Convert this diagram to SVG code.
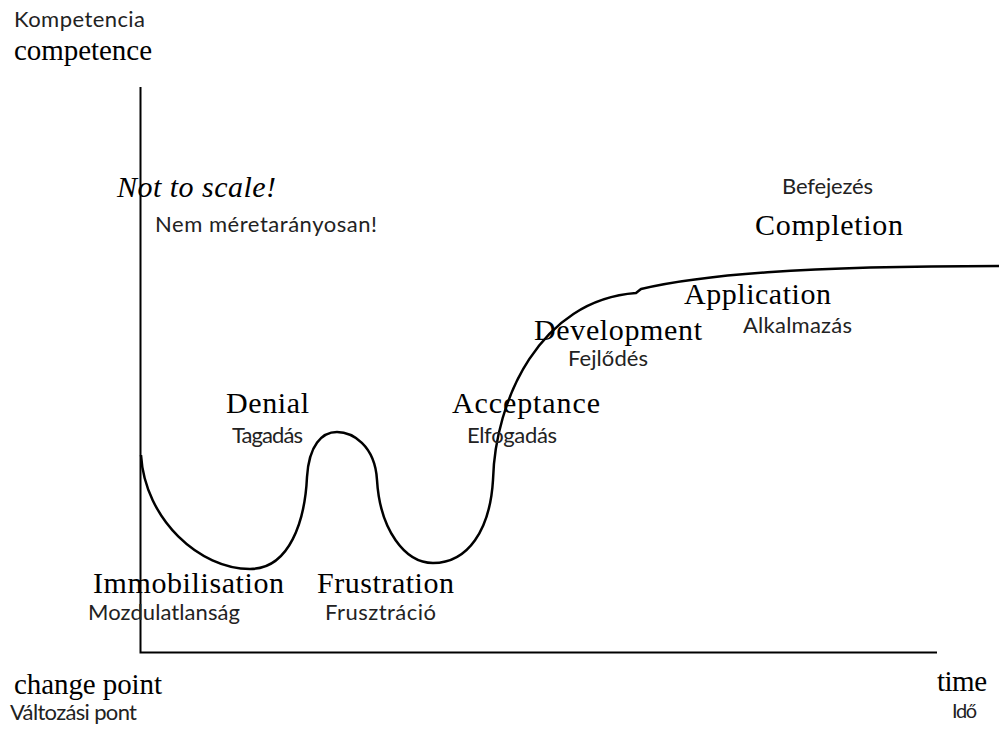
<svg xmlns="http://www.w3.org/2000/svg" width="999" height="731" viewBox="0 0 999 731">
  <style>
    .en { font-family: "Liberation Serif", "Times New Roman", serif; font-size: 30px; fill: #000; }
    .ax { font-size: 29px; }
    .it { font-style: italic; }
    .hu { font-family: Lato, "Open Sans", "Liberation Sans", sans-serif; font-size: 22px; fill: #222; }
    .sm { font-size: 20px; }
    .line { fill: none; stroke: #000; stroke-width: 2; }
    .curve { fill: none; stroke: #000; stroke-width: 2.5; stroke-linejoin: round; }
  </style>
  <rect width="999" height="731" fill="#fff"/>

  <g id="axes">
    <path class="line" d="M140.5,87 V652.5 H937"/>
  </g>

  <g id="connectors">
    <path class="curve" d="M141,455 C145,520 200,569 250,569 C290,569 305,520 307,477 C309,445 322,432 337,432 C352,432 375,445 377,480 C380,530 405,563 433,563 C468,563 490,530 493,480 C495,400 540,300 636,293 L641,289 C700,275 800,266 999,266"/>
  </g>

  <g id="axis-y-label">
    <text class="hu" x="14" y="27" textLength="131">Kompetencia</text>
    <text class="en ax" x="14" y="60" textLength="138">competence</text>
  </g>
  <g id="note">
    <text class="en it" x="117" y="197" textLength="159">Not to scale!</text>
    <text class="hu" x="155" y="232" textLength="222">Nem méretarányosan!</text>
  </g>
  <g id="completion">
    <text class="hu" x="782" y="194" textLength="91">Befejezés</text>
    <text class="en" x="755" y="235" textLength="148">Completion</text>
  </g>
  <g id="application">
    <text class="en" x="684" y="304" textLength="147">Application</text>
    <text class="hu" x="743" y="333" textLength="109">Alkalmazás</text>
  </g>
  <g id="development">
    <text class="en" x="534" y="340" textLength="168">Development</text>
    <text class="hu" x="568" y="366" textLength="80">Fejlődés</text>
  </g>
  <g id="acceptance">
    <text class="en" x="452" y="413" textLength="148">Acceptance</text>
    <text class="hu" x="467" y="443" textLength="90">Elfogadás</text>
  </g>
  <g id="denial">
    <text class="en" x="226" y="413" textLength="83">Denial</text>
    <text class="hu" x="232" y="443" textLength="71">Tagadás</text>
  </g>
  <g id="immobilisation">
    <text class="en" x="93" y="593" textLength="191">Immobilisation</text>
    <text class="hu" x="88" y="620" textLength="152">Mozdulatlanság</text>
  </g>
  <g id="frustration">
    <text class="en" x="317" y="593" textLength="137">Frustration</text>
    <text class="hu" x="325" y="620" textLength="111">Frusztráció</text>
  </g>
  <g id="axis-x-origin">
    <text class="en ax" x="14" y="694" textLength="148">change point</text>
    <text class="hu" x="10" y="720" textLength="127">Változási pont</text>
  </g>
  <g id="axis-x-label">
    <text class="en ax" x="937" y="691" textLength="50">time</text>
    <text class="hu sm" x="952" y="718" textLength="25">Idő</text>
  </g>
</svg>
